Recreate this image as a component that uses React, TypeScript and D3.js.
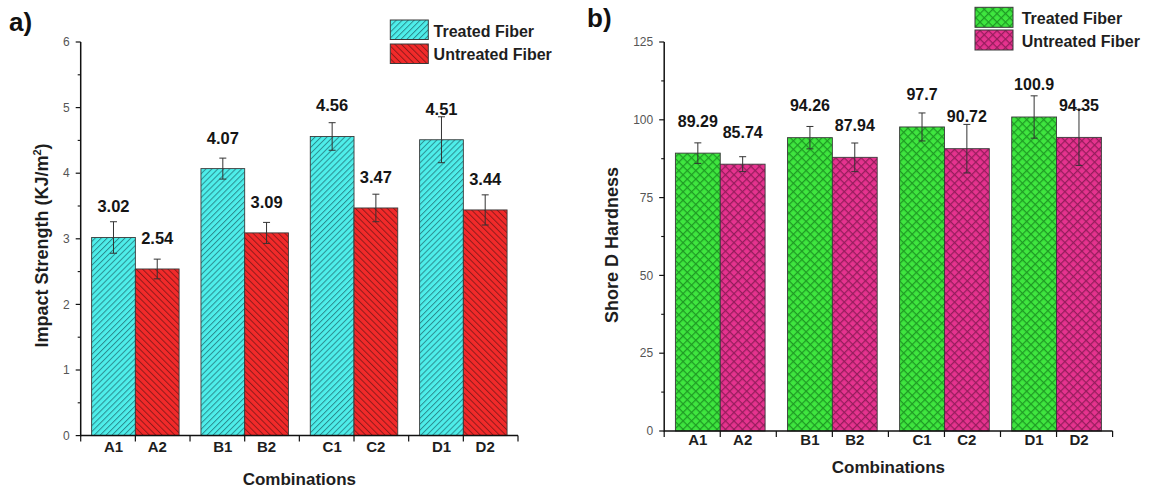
import React from "react";
import * as d3 from "d3";

// ---------- data ----------
const groups = ["A", "B", "C", "D"];
const treatedLabels = ["A1", "B1", "C1", "D1"];
const untreatedLabels = ["A2", "B2", "C2", "D2"];
const seriesNames = ["Treated Fiber", "Untreated Fiber"];

const impactTreated = [3.02, 4.07, 4.56, 4.51];
const impactUntreated = [2.54, 3.09, 3.47, 3.44];
const impactTreatedErr = [0.24, 0.16, 0.21, 0.35];
const impactUntreatedErr = [0.15, 0.16, 0.21, 0.23];
const impactTicks = [0, 1, 2, 3, 4, 5, 6];
const impactMinorStep = 0.5;

const hardnessTreated = [89.29, 94.26, 97.7, 100.9];
const hardnessUntreated = [85.74, 87.94, 90.72, 94.35];
const hardnessTreatedErr = [3.3, 3.6, 4.5, 6.8];
const hardnessUntreatedErr = [2.4, 4.6, 7.8, 9.0];
const hardnessTicks = [0, 25, 50, 75, 100, 125];
const hardnessMinorStep = 12.5;

const FONT = "'Liberation Sans', Arial, Helvetica, sans-serif";

type PanelProps = {
  id: string;
  tag: string;
  tagX: number;
  tagY: number;
  x0: number;
  x1: number;
  yBottom: number;
  yTop: number;
  ticks: number[];
  minorStep: number;
  treated: number[];
  untreated: number[];
  treatedErr: number[];
  untreatedErr: number[];
  fills: [string, string];
  yLabel: React.ReactNode;
  yLabelX: number;
  yLabelY: number;
  catDy: number;
  titleY: number;
  valueFont: number;
  valueOffset: number;
  legendBoxX: number;
  legendBoxY: [number, number];
  legendBoxW: number;
  legendBoxH: number;
  legendTextX: number;
  legendTextY: [number, number];
};

function Panel(p: PanelProps) {
  const max = p.ticks[p.ticks.length - 1];
  const y = d3.scaleLinear().domain([0, max]).range([p.yBottom, p.yTop]);
  const xg = d3.scaleBand<string>().domain(groups).range([p.x0, p.x1]).paddingInner(0).paddingOuter(0);
  const xi = d3.scaleBand<string>().domain(["t", "u"]).range([0, xg.bandwidth()]).paddingInner(0).paddingOuter(0.25);
  const bw = xi.bandwidth();
  const minors = d3.range(0, max + 1e-9, p.minorStep).filter((v) => !p.ticks.some((t) => Math.abs(t - v) < 1e-9));

  const bars: { key: string; x: number; v: number; e: number; fill: string; label: string }[] = [];
  groups.forEach((g, i) => {
    bars.push({ key: g + "t", x: (xg(g) as number) + (xi("t") as number), v: p.treated[i], e: p.treatedErr[i], fill: p.fills[0], label: treatedLabels[i] });
    bars.push({ key: g + "u", x: (xg(g) as number) + (xi("u") as number), v: p.untreated[i], e: p.untreatedErr[i], fill: p.fills[1], label: untreatedLabels[i] });
  });

  const xTicks: number[] = [];
  groups.forEach((g) => {
    xTicks.push(xg(g) as number);
    xTicks.push((xg(g) as number) + xg.bandwidth() / 2);
  });
  xTicks.push(p.x1);

  return (
    <g>
      <text x={p.tagX} y={p.tagY} fontFamily={FONT} fontWeight="bold" fontSize={26} fill="#111">{p.tag}</text>
      {bars.map((b) => (
        <rect key={b.key} x={b.x} y={y(b.v)} width={bw} height={p.yBottom - y(b.v)} fill={b.fill} stroke="#3a3a3a" strokeWidth={0.9} />
      ))}
      {bars.map((b) => {
        const cx = b.x + bw / 2;
        return (
          <g key={b.key + "e"} stroke="#333" strokeWidth={1}>
            <line x1={cx} x2={cx} y1={y(b.v + b.e)} y2={y(b.v - b.e)} />
            <line x1={cx - 3.5} x2={cx + 3.5} y1={y(b.v + b.e)} y2={y(b.v + b.e)} />
            <line x1={cx - 3.5} x2={cx + 3.5} y1={y(b.v - b.e)} y2={y(b.v - b.e)} />
          </g>
        );
      })}
      {bars.map((b) => (
        <text key={b.key + "v"} x={b.x + bw / 2} y={y(b.v) - p.valueOffset} textAnchor="middle" fontFamily={FONT} fontWeight="bold" fontSize={p.valueFont} fill="#151515">
          {String(b.v)}
        </text>
      ))}
      <line x1={p.x0} x2={p.x0} y1={p.yBottom + 0.75} y2={p.yTop} stroke="#111" strokeWidth={1.5} />
      <line x1={p.x0} x2={p.x1} y1={p.yBottom} y2={p.yBottom} stroke="#111" strokeWidth={1.5} />
      {p.ticks.map((t) => (
        <g key={"yt" + t}>
          <line x1={p.x0 - 5} x2={p.x0} y1={y(t)} y2={y(t)} stroke="#111" strokeWidth={1.2} />
          <text x={p.x0 - 11} y={y(t)} dy="0.35em" textAnchor="end" fontFamily={FONT} fontSize={12} fill="#555">{t}</text>
        </g>
      ))}
      {minors.map((t) => (
        <line key={"ym" + t} x1={p.x0 - 3} x2={p.x0} y1={y(t)} y2={y(t)} stroke="#111" strokeWidth={1.1} />
      ))}
      {xTicks.map((xv, i) => (
        <line key={"xt" + i} x1={xv} x2={xv} y1={p.yBottom} y2={p.yBottom + 6} stroke="#111" strokeWidth={1.2} />
      ))}
      {bars.map((b) => (
        <text key={b.key + "c"} x={b.x + bw / 2} y={p.yBottom + p.catDy} textAnchor="middle" fontFamily={FONT} fontWeight="bold" fontSize={15} fill="#1e1e1e">
          {b.label}
        </text>
      ))}
      <text x={(p.x0 + p.x1) / 2} y={p.titleY} textAnchor="middle" fontFamily={FONT} fontWeight="bold" fontSize={17} fill="#1e1e1e">Combinations</text>
      <text transform={`translate(${p.yLabelX},${p.yLabelY}) rotate(-90)`} textAnchor="middle" fontFamily={FONT} fontWeight="bold" fontSize={18} fill="#1e1e1e">
        {p.yLabel}
      </text>
      {seriesNames.map((s, i) => (
        <g key={s}>
          <rect x={p.legendBoxX} y={p.legendBoxY[i]} width={p.legendBoxW} height={p.legendBoxH} fill={p.fills[i]} stroke="#3a3a3a" strokeWidth={1} />
          <text x={p.legendTextX} y={p.legendTextY[i]} fontFamily={FONT} fontWeight="bold" fontSize={16} fill="#1e1e1e">{s}</text>
        </g>
      ))}
    </g>
  );
}

export default function App() {
  return (
    <svg width={1154} height={490} viewBox="0 0 1154 490" style={{ position: "absolute", left: 0, top: 0, background: "#fff" }}>
      <defs>
        <pattern id="cyanHatch" width={4.2} height={4.2} patternUnits="userSpaceOnUse" patternTransform="rotate(45)">
          <rect width={4.2} height={4.2} fill="#4eeeea" />
          <line x1={0.5} y1={0} x2={0.5} y2={4.2} stroke="#2b8c8f" strokeWidth={1} />
        </pattern>
        <pattern id="redHatch" width={4.5} height={4.5} patternUnits="userSpaceOnUse" patternTransform="rotate(-45)">
          <rect width={4.5} height={4.5} fill="#f22a2a" />
          <line x1={0.5} y1={0} x2={0.5} y2={4.5} stroke="#8e1b1b" strokeWidth={1} />
        </pattern>
        <pattern id="greenCross" width={6} height={6} patternUnits="userSpaceOnUse" patternTransform="rotate(45)">
          <rect width={6} height={6} fill="#3fe63f" />
          <line x1={0} y1={0.6} x2={6} y2={0.6} stroke="#1f9a24" strokeWidth={1.3} />
          <line x1={0.6} y1={0} x2={0.6} y2={6} stroke="#1f9a24" strokeWidth={1.3} />
        </pattern>
        <pattern id="pinkCross" width={6} height={6} patternUnits="userSpaceOnUse" patternTransform="rotate(45)">
          <rect width={6} height={6} fill="#e6338f" />
          <line x1={0} y1={0.6} x2={6} y2={0.6} stroke="#951d5c" strokeWidth={1.3} />
          <line x1={0.6} y1={0} x2={0.6} y2={6} stroke="#951d5c" strokeWidth={1.3} />
        </pattern>
      </defs>
      <Panel
        id="a"
        tag="a)"
        tagX={9}
        tagY={31}
        x0={80.7}
        x1={518}
        yBottom={435.6}
        yTop={42}
        ticks={impactTicks}
        minorStep={impactMinorStep}
        treated={impactTreated}
        untreated={impactUntreated}
        treatedErr={impactTreatedErr}
        untreatedErr={impactUntreatedErr}
        fills={["url(#cyanHatch)", "url(#redHatch)"]}
        yLabel={<>Impact Strength (KJ/m<tspan fontSize={11} dy={-7}>2</tspan><tspan dy={7}>)</tspan></>}
        yLabelX={48}
        yLabelY={245.5}
        catDy={16}
        titleY={485}
        valueFont={16.5}
        valueOffset={25}
        legendBoxX={390.3}
        legendBoxY={[20, 44]}
        legendBoxW={38}
        legendBoxH={19.5}
        legendTextX={433.6}
        legendTextY={[37, 60]}
      />
      <Panel
        id="b"
        tag="b)"
        tagX={587}
        tagY={27}
        x0={664.2}
        x1={1112.6}
        yBottom={431}
        yTop={42}
        ticks={hardnessTicks}
        minorStep={hardnessMinorStep}
        treated={hardnessTreated}
        untreated={hardnessUntreated}
        treatedErr={hardnessTreatedErr}
        untreatedErr={hardnessUntreatedErr}
        fills={["url(#greenCross)", "url(#pinkCross)"]}
        yLabel={"Shore D Hardness"}
        yLabelX={617.5}
        yLabelY={245}
        catDy={14}
        titleY={473}
        valueFont={16}
        valueOffset={26.5}
        legendBoxX={975}
        legendBoxY={[7.3, 30]}
        legendBoxW={38}
        legendBoxH={20}
        legendTextX={1021.7}
        legendTextY={[24, 46.5]}
      />
    </svg>
  );
}
